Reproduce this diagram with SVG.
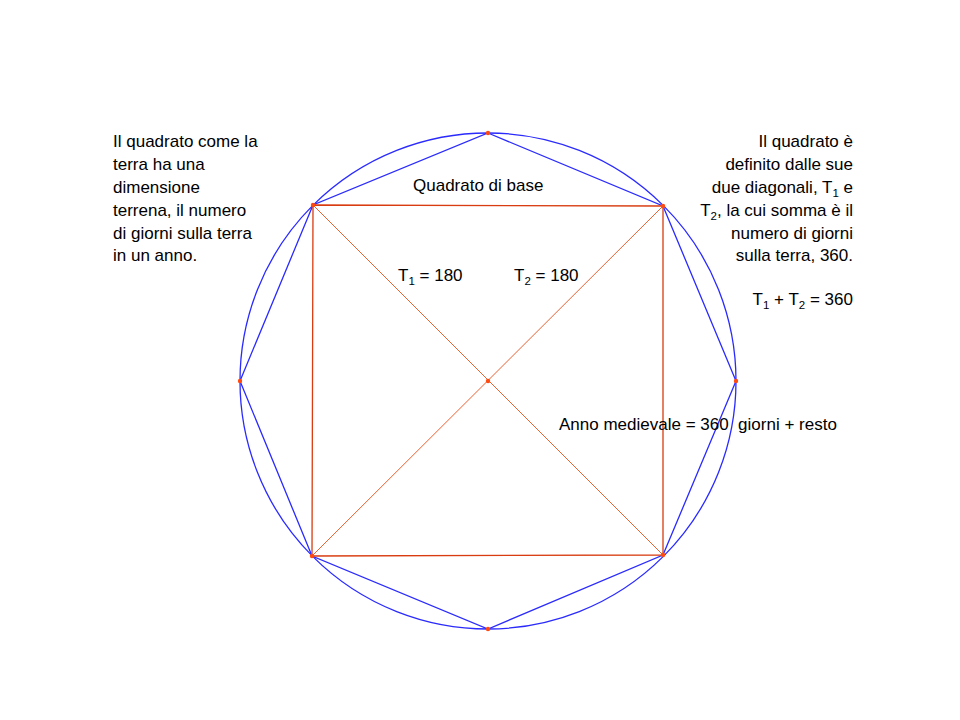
<svg xmlns="http://www.w3.org/2000/svg" width="960" height="720" viewBox="0 0 960 720">
<style>
.t{font-family:"Liberation Sans",Arial,sans-serif;font-size:17px;fill:#000}
.r{text-anchor:end}
.sub{font-size:11.5px}
.blue{fill:none;stroke:#2a2aff;stroke-width:1.3}
.sq{fill:none;stroke:#d83c10;stroke-width:1.3}
.dg{stroke:#e86030;stroke-width:1}
.pt{fill:#ff4a10}
</style>
<rect width="960" height="720" fill="#fff"/>
<g id="connectors">
<circle class="blue" cx="488" cy="381" r="248"/>
<polygon class="blue" points="488,133 663,206 736,381 663,555 488,629 312,556 240,381 313,205"/>
<polygon class="sq" points="313,205 663,206 663,555 312,556"/>
<line class="dg" x1="313" y1="205" x2="663" y2="555"/>
<line class="dg" x1="663" y1="206" x2="312" y2="556"/>
</g>
<g id="points">
<circle class="pt" cx="488" cy="133" r="2.2"/>
<circle class="pt" cx="663" cy="206" r="2.2"/>
<circle class="pt" cx="736" cy="381" r="2.2"/>
<circle class="pt" cx="663" cy="555" r="2.2"/>
<circle class="pt" cx="488" cy="629" r="2.2"/>
<circle class="pt" cx="312" cy="556" r="2.2"/>
<circle class="pt" cx="240" cy="381" r="2.2"/>
<circle class="pt" cx="313" cy="205" r="2.2"/>
<circle class="pt" cx="488" cy="381" r="2.2"/>
</g>
<g id="left-text">
<text class="t" x="113" y="147">Il quadrato come la</text>
<text class="t" x="113" y="170">terra ha una</text>
<text class="t" x="113" y="193">dimensione</text>
<text class="t" x="113" y="216">terrena, il numero</text>
<text class="t" x="113" y="239">di giorni sulla terra</text>
<text class="t" x="113" y="261">in un anno.</text>
</g>
<g id="right-text">
<text class="t r" x="853" y="147">Il quadrato è</text>
<text class="t r" x="853" y="170">definito dalle sue</text>
<text class="t r" x="853" y="193">due diagonali, T<tspan class="sub" dy="4">1</tspan><tspan dy="-4"> e</tspan></text>
<text class="t r" x="853" y="216">T<tspan class="sub" dy="4">2</tspan><tspan dy="-4">, la cui somma è il</tspan></text>
<text class="t r" x="853" y="239">numero di giorni</text>
<text class="t r" x="853" y="261">sulla terra, 360.</text>
<text class="t r" x="853" y="305">T<tspan class="sub" dy="4">1</tspan><tspan dy="-4"> + T</tspan><tspan class="sub" dy="4">2</tspan><tspan dy="-4"> = 360</tspan></text>
</g>
<g id="label-base"><text class="t" x="413" y="191">Quadrato di base</text></g>
<g id="label-t1"><text class="t" x="398" y="281">T<tspan class="sub" dy="4">1</tspan><tspan dy="-4"> = 180</tspan></text></g>
<g id="label-t2"><text class="t" x="514" y="281">T<tspan class="sub" dy="4">2</tspan><tspan dy="-4"> = 180</tspan></text></g>
<g id="label-anno"><text class="t" x="559" y="430" style="white-space:pre">Anno medievale = 360  giorni + resto</text></g>
</svg>
